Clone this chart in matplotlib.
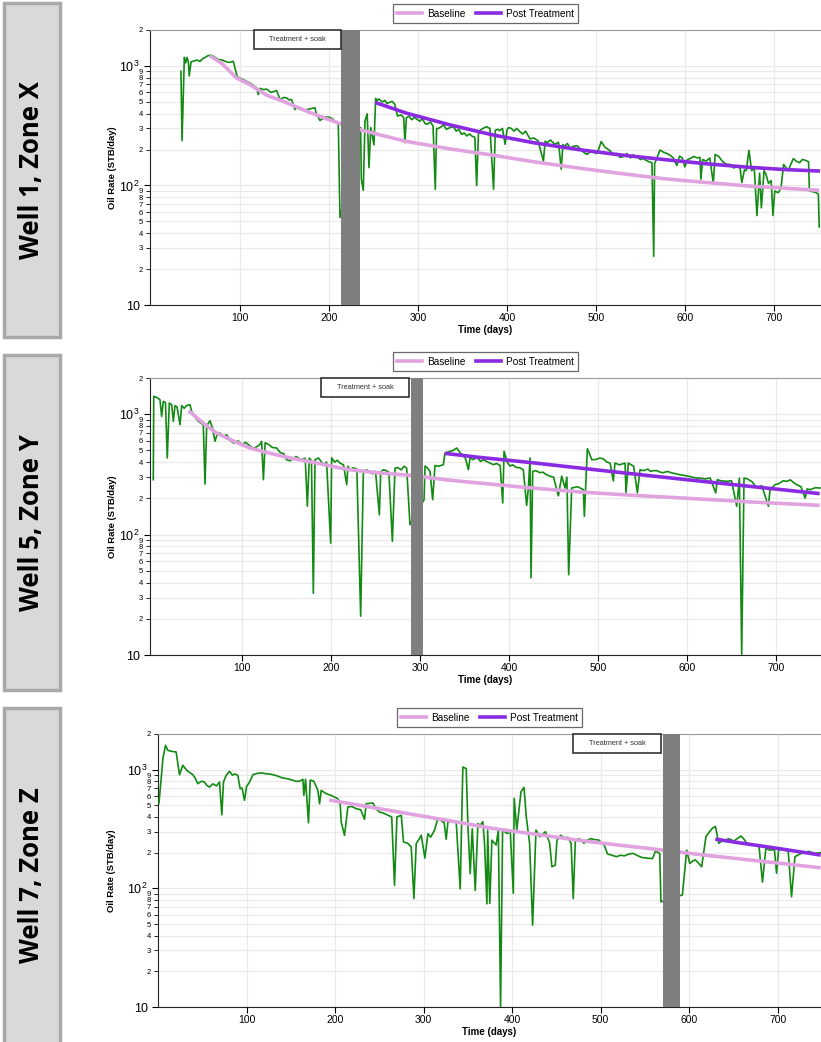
import numpy as np
import matplotlib
matplotlib.use("Agg")
import matplotlib.pyplot as plt
from matplotlib.patches import Rectangle
from matplotlib.lines import Line2D
from matplotlib.ticker import FixedLocator, FuncFormatter
import matplotlib.transforms as mtransforms

plt.rcParams["font.family"] = ["Liberation Sans", "DejaVu Sans"]
plt.rcParams["mathtext.fontset"] = "custom"
plt.rcParams["mathtext.rm"] = "Liberation Sans"

# ---- Well 1, Zone X ----
w1_days = [33.7, 34.9, 37.5, 39, 40.5, 42, 43, 45, 48, 52, 55, 58, 61, 64, 68, 72, 76, 80, 84, 88,
           92.5, 97, 100, 103.8, 107, 111.3, 115, 118.8, 120.6, 122.5, 126, 130, 135, 141.2, 145,
           149, 152.5, 155, 158, 161.8, 164, 167.4, 171, 175, 180, 184.3, 186, 190, 193.7, 197,
           201, 204, 206.8, 210.5, 212.4,
           235.6, 236.4, 238.6, 240.5, 243, 245, 247, 250.6, 252.5, 254, 256, 260, 263, 265, 268,
           271, 274, 277, 281, 284, 285.4, 287, 290, 293, 296, 298.5, 302, 305, 308, 310, 314, 317,
           319.5, 321, 323, 326, 329, 332, 336, 340, 343, 346, 349, 352, 355, 358, 361, 364, 366,
           368, 370, 373, 377, 381, 385, 387, 390, 392, 395, 398, 400, 402, 405, 408, 411, 415,
           418, 421, 424, 426, 430, 435, 441, 443, 445, 449, 454, 458, 461, 463, 465, 468, 471,
           475, 479, 483, 486, 490, 495, 500, 503, 506, 510, 516, 520, 524, 527, 531, 535, 539,
           542, 546, 550, 553, 558, 563, 565, 566, 568, 572, 576, 580, 584, 587, 591, 594, 597,
           600, 603, 606, 610, 614, 617, 618, 620, 624, 628, 632, 634, 638, 642, 647, 651, 655,
           658, 662, 664, 667, 669, 672, 675, 678, 681, 684, 686, 689, 691, 694, 697, 699, 701,
           705, 708, 711, 714, 716, 719, 722, 725, 729, 732, 735, 739, 740, 746, 750, 751]
w1_rate = [903, 237, 1180, 1060, 1180, 1080, 825, 1080, 1100, 1120, 1090, 1150, 1180, 1220, 1230,
           1180, 1130, 1120, 1090, 1070,
           1094, 810, 790, 770, 745, 720, 690, 655, 576, 650, 635, 640, 600, 623, 524,
           545, 541, 520, 524, 432, 455, 447, 425, 432, 440, 447, 393, 350, 365, 375,
           372, 360, 345, 335, 54,
           305, 113, 91, 346, 398, 141, 305, 219, 535, 510, 530, 500, 515, 486, 495,
           505, 478, 381, 390, 370, 228, 368, 380, 355, 372, 360, 345, 362, 330, 325, 340, 315,
           93, 300, 300, 310, 322, 295, 305, 310, 285, 295, 268, 275, 260, 270, 258, 253, 100,
           270, 290, 300, 310, 300, 93, 290, 295, 288, 300, 221, 290, 305, 300, 285, 300, 280,
           270, 285, 260, 245, 250, 237, 160, 235, 228, 240, 221, 230, 137, 220, 213, 225, 205,
           213, 215, 200, 190, 182, 195, 185, 200, 233, 210, 195, 180, 185, 172, 175, 185, 170,
           180, 175, 165, 168, 160, 155, 25.6, 152, 165, 198, 190, 185, 178, 170, 147, 176, 170,
           143, 165, 168, 175, 170, 172, 113, 165, 160, 170, 104, 182, 175, 160, 150, 150, 140,
           145, 140, 106, 135, 133, 197, 133, 140, 56, 127, 65, 133, 125, 104, 110, 56, 90,
           87, 95, 150, 140, 133, 150, 168, 160, 155, 165, 163, 158, 90, 88, 85, 45]
w1_base_days = [66, 80, 96, 111, 130, 149, 168, 186, 211, 235, 260, 287, 335, 383, 430, 480, 528,
                576, 624, 672, 712, 751]
w1_base_rate = [1220, 1045, 795, 700, 570, 505, 440, 388, 333, 293, 262, 234, 203, 180, 158, 140,
                126, 114, 106, 99, 95, 91]
w1_post_days = [252, 287, 335, 383, 430, 480, 528, 576, 624, 672, 712, 752]
w1_post_rate = [495, 403, 323, 266, 228, 200, 180, 165, 152, 142, 136, 132]
w1_soak = (213, 235)
w1_note = (116, 213)

# ---- Well 5, Zone Y ----
w5_days = [0.3, 0.8, 4, 7.8, 9.7, 11.6, 14, 16, 18.3, 21, 22.8, 24.7, 27, 30.3, 32.2, 35, 37.8,
           41.5, 43.4, 47, 51, 54, 56.5, 58.4, 60.3, 64, 67, 69.6, 72, 75.3, 79, 82.7, 86, 90.2,
           93, 95.8, 100, 104, 109, 113, 117, 120, 122, 124, 126, 130, 134, 139, 143, 147, 150,
           154, 157, 161, 166, 171, 173.4, 175.6, 178, 180.1, 182, 186, 191.4, 195, 199.6, 200.7,
           204, 207, 210, 214, 217.6, 219, 221.3, 225, 229, 233.3, 236.3, 240, 243.8, 247, 250,
           254.3, 255.8, 258.8, 262, 265, 268.9, 271.9, 275, 279, 282, 285, 288.7,
           304.5, 305.6, 308, 311.2, 314.2, 316.8, 321, 326.2, 328, 333, 337, 341.2, 345, 348.7,
           351, 354.3, 356.2, 360, 364, 368, 371.1, 374.9, 378, 382.4, 386, 390, 392.9, 394.4,
           398, 401, 404, 408.6, 412, 416, 419.8, 421.7, 423.6, 424.7, 426.6, 430, 434.8, 438,
           442, 446, 450, 455.4, 459.2, 462.9, 465, 467, 470.4, 477, 483.5, 484.6, 488, 490,
           492.9, 497, 502.2, 506, 510, 513.5, 517.2, 519, 524, 530.3, 531.4, 534, 540, 544.2,
           547.2, 551, 556, 559, 562, 566, 570, 573.4, 578, 583, 588, 592.1, 597, 602, 606,
           610.8, 615, 620, 626, 632.2, 634, 638, 644.5, 650, 655.8, 658.8, 661.4, 664, 668, 673,
           678.3, 684, 691.4, 693.2, 698.9, 703, 708, 712, 716, 720, 723.2, 728, 732.6, 735,
           738.2, 744, 749.4]
w5_rate = [286, 1408, 1380, 1320, 961, 1280, 1250, 433, 1239, 1200, 873, 1180, 1150, 818, 1180,
           1120, 1180, 1200, 1057, 950, 873, 840, 818, 263, 800, 883, 760, 596, 680, 698, 650,
           675, 610, 577, 590, 600, 560, 585, 545, 520, 540, 560, 596, 286, 580, 560, 530, 524,
           480, 470, 419, 410, 430, 445, 420, 430, 172, 433, 410, 32.6, 420, 433, 381, 400, 85,
           435, 400, 415, 393, 380, 260, 370, 346, 360, 350, 21, 335, 345, 330, 320, 335, 146,
           330, 346, 340, 330, 88, 357, 360, 345, 370, 357, 121,
           195, 371, 360, 335, 195, 375, 370, 381, 476, 490, 500, 524, 480, 450, 430, 346, 433,
           420, 440, 405, 419, 405, 395, 381, 390, 375, 183, 492, 400, 371, 380, 360, 360, 346,
           175, 244, 433, 43.8, 335, 340, 327, 330, 315, 306, 300, 210, 306, 244, 300, 46.4,
           244, 250, 236, 142, 517, 480, 419, 420, 433, 425, 400, 393, 279, 393, 380, 393, 222,
           393, 370, 222, 346, 340, 350, 335, 340, 340, 330, 327, 335, 325, 320, 314, 310, 305,
           300, 295, 295, 290, 295, 222, 286, 280, 277, 280, 172, 295, 10.1, 295, 290, 275, 244,
           255, 172, 236, 260, 265, 280, 277, 285, 270, 260, 250, 201, 240, 236, 245, 244]
w5_base_days = [40, 55, 71.5, 90, 109, 128, 146, 165, 184, 202, 221, 255, 289, 330, 367, 420, 480,
                535, 592, 670, 749]
w5_base_rate = [1070, 860, 697, 600, 524, 480, 447, 418, 393, 368, 346, 325, 311, 285, 268, 246,
                226, 213, 202, 187, 175]
w5_post_days = [328, 367, 420, 480, 535, 592, 670, 749]
w5_post_rate = [473, 438, 400, 357, 322, 290, 252, 219]
w5_soak = (290, 303)
w5_note = (189, 288)

# ---- Well 7, Zone Z ----
w7_days = [1, 3.6, 5.5, 8.5, 11.1, 15, 20.5, 24.3, 28, 33, 39.4, 42, 45, 49, 52.5, 55, 58.2, 62,
           66, 69.5, 72.1, 74, 77, 80.8, 84, 87, 90.2, 92.8, 95, 97.7, 100, 103.4, 107.2, 112,
           117, 122, 128, 134, 141, 146, 151, 156, 160, 163.7, 164.8, 166.7, 170, 172, 176, 180.6,
           182.5, 184.4, 187, 190, 195, 199, 203.2, 205.8, 207, 210.7, 214.5, 219, 224, 229,
           233.3, 235.2, 239, 242.8, 246, 250.3, 255, 261.6, 264, 267.2, 269.9, 274.8, 277.4, 282,
           286.1, 289.1, 291.7, 295, 297.4, 301.5, 304.9, 308, 312.4, 316.2, 321.8, 323, 325.6,
           327.5, 332, 336.9, 341.4, 344.4, 348.2, 350.1, 352.7, 355, 358.4, 361.4, 364, 367,
           368.9, 371.6, 372.4, 374.8, 377.2, 382, 384.5, 387, 389.3, 394.2, 398, 401.4, 402.4,
           405.3, 410.1, 413.5, 416, 419.8, 423.2, 427, 431.4, 437.7, 442.5, 445, 448.8, 450.7,
           455, 459.5, 463, 466.7, 469.1, 471.5, 476, 481.2, 485, 488.5, 493, 498.1, 504, 507.8,
           513, 518, 522.3, 527, 532, 536.8, 541, 546.5, 552, 558.6, 562, 566.8, 568.2,
           592.4, 597.3, 600.7, 604, 607, 610, 614.2, 619, 623, 626.3, 629.7, 633.5, 637, 640.8,
           645, 650.5, 655, 658.7, 662, 665, 670, 674.6, 679, 682.9, 686.7, 691, 696.4, 698.8,
           701.2, 708.5, 712, 715.7, 719.6, 725.4, 730, 735.1, 742.3, 748.6]
w7_rate = [517, 840, 1238, 1606, 1457, 1430, 1410, 907, 1089, 980, 907, 850, 762, 800, 788, 740,
           714, 760, 730, 788, 417, 788, 896, 969, 900, 920, 896, 692, 700, 552, 720, 788, 907,
           930, 940, 925, 915, 890, 851, 840, 820, 798, 800, 830, 608, 830, 357, 818, 800, 670,
           517, 670, 650, 627, 610, 590, 570, 517, 362, 280, 485, 490, 469, 460,
           382, 517, 520, 525, 470, 440, 430, 407, 400, 106, 400, 413, 246, 240,
           223, 82, 238, 260, 280, 180, 289, 270, 309, 391, 362, 370, 259,
           362, 370, 360, 99, 1054, 1020, 340, 133, 318, 96, 351, 340, 364,
           238, 74, 310, 74.7, 255, 232, 310, 10, 310, 290, 300, 91, 574,
           310, 652, 710, 402, 240, 49, 310, 272, 300, 240, 152, 157, 255,
           280, 264, 270, 240, 82, 255, 262, 240, 255, 262, 258, 255, 232, 195,
           190, 185, 190, 188, 195, 197, 190, 182, 180, 178, 206, 197, 77,
           88, 210, 162, 170, 174, 165, 152, 272, 300, 321, 333, 240, 250, 255,
           262, 250, 265, 276, 260, 240, 235, 232, 225, 113, 217, 210, 212, 134,
           214, 210, 205, 85, 185, 195, 200, 205, 197, 200]
w7_base_days = [193.5, 237, 280.5, 329, 377, 425, 474, 522, 570.6, 619, 667, 708, 748.6]
w7_base_rate = [555, 488, 429, 372, 321, 287, 255, 231, 210, 190, 174, 161, 149]
w7_post_days = [629.6, 660, 691.5, 720, 748.6]
w7_post_rate = [260, 240, 222, 206, 191]
w7_soak = (570.5, 590)
w7_note = (469, 568)

panel_labels = ["Well 1, Zone X", "Well 5, Zone Y", "Well 7, Zone Z"]

W, H = 821, 1042
fig = plt.figure(figsize=(W / 100, H / 100), dpi=100)

BASE_C = "#e0a3e0"
POST_C = "#8a2be2"
GREEN = "#138a13"


def fx(px):
    return px / W


def fy(py):
    return 1 - py / H


def draw_panel(ax, days, rate, bd, br, pd_, pr, soak, note, xlim, ylab_px):
    ax.set_yscale("log")
    ax.set_ylim(10, 2000)
    ax.set_xlim(*xlim)
    ax.axvspan(soak[0], soak[1], color="#7f7f7f", zorder=6, lw=0)
    ax.plot(days, rate, color=GREEN, lw=1.2, zorder=3)
    ax.plot(bd, br, color=BASE_C, lw=2.6, zorder=4, solid_capstyle="butt")
    ax.plot(pd_, pr, color=POST_C, lw=2.6, zorder=5, solid_capstyle="butt")

    # annotation box at top of plot area
    tr = mtransforms.blended_transform_factory(ax.transData, ax.transAxes)
    ax.add_patch(Rectangle((note[0], 0.932), note[1] - note[0], 0.068, transform=tr,
                           facecolor="white", edgecolor="#222222", lw=1.1, zorder=7,
                           clip_on=False))
    ax.text((note[0] + note[1]) / 2, 0.966, "Treatment + soak", transform=tr,
            ha="center", va="center", fontsize=5.3, color="#333333", zorder=8)

    ax.yaxis.set_major_locator(FixedLocator([10, 100, 1000]))
    minors = [m * d for d in (10, 100, 1000) for m in range(2, 10) if m * d <= 2000]
    ax.yaxis.set_minor_locator(FixedLocator(minors))
    ax.yaxis.set_major_formatter(FuncFormatter(
        lambda v, p: {10: "10", 100: "$10^2$", 1000: "$10^3$"}.get(int(round(v)), "")))
    ax.yaxis.set_minor_formatter(FuncFormatter(
        lambda v, p: str(int(round(v / 10 ** np.floor(np.log10(v)))))))
    ax.set_xticks([100, 200, 300, 400, 500, 600, 700])
    ax.tick_params(axis="y", which="major", labelsize=9, length=4, width=0.8)
    ax.tick_params(axis="y", which="minor", labelsize=5.5, length=3, width=0.6, pad=2)
    ax.tick_params(axis="x", labelsize=7.5, length=4, width=0.8, pad=2)
    ax.grid(True, axis="y", which="both", color="#e9e9e9", lw=0.9, zorder=0)
    ax.grid(True, axis="x", which="major", color="#e9e9e9", lw=0.9, zorder=0)
    ax.set_axisbelow(True)
    ax.spines["right"].set_visible(False)
    ax.spines["top"].set_color("#9a9a9a")
    ax.spines["left"].set_color("#222222")
    ax.spines["bottom"].set_color("#222222")
    ax.set_xlabel("Time (days)", fontsize=7, fontweight="bold", labelpad=1)
    ax.set_ylabel("Oil Rate (STB/day)", fontsize=6.8, fontweight="bold")
    width_px = ax.get_position().width * W
    ax.yaxis.set_label_coords(ylab_px / width_px, 0.5)

    handles = [Line2D([], [], color=BASE_C, lw=2.6), Line2D([], [], color=POST_C, lw=2.6)]
    leg = ax.legend(handles, ["Baseline", "Post Treatment"], loc="lower center",
                    bbox_to_anchor=(0.5, 1.025), ncol=2, fontsize=7.2, frameon=True,
                    fancybox=False, edgecolor="#444444", handlelength=2.5,
                    columnspacing=1.0, handletextpad=0.5, borderpad=0.45,
                    borderaxespad=0)
    leg.get_frame().set_linewidth(0.9)


panels = [
    (150, 30, 305, (w1_days, w1_rate, w1_base_days, w1_base_rate, w1_post_days, w1_post_rate,
                    w1_soak, w1_note, (-1.1, 753), -33)),
    (150, 378, 655, (w5_days, w5_rate, w5_base_days, w5_base_rate, w5_post_days, w5_post_rate,
                     w5_soak, w5_note, (-3.4, 750.5), -33)),
    (158, 734, 1007, (w7_days, w7_rate, w7_base_days, w7_base_rate, w7_post_days, w7_post_rate,
                      w7_soak, w7_note, (0, 749), -42)),
]
boxes = [(3, 337), (355, 690), (708, 1050)]

for (left, top, bottom, args), (b0, b1), label in zip(panels, boxes, panel_labels):
    ax = fig.add_axes([fx(left), fy(bottom), fx(W - left), (bottom - top) / H])
    draw_panel(ax, *args)
    fig.patches.append(Rectangle((fx(4), fy(b1)), fx(56), (b1 - b0) / H,
                                 transform=fig.transFigure, facecolor="#d9d9d9",
                                 edgecolor="#a9a9a9", lw=2.5, zorder=0))
    fig.text(fx(32), fy((b0 + min(b1, H)) / 2), label, rotation=90, ha="center",
             va="center", fontsize=18.5, fontweight="bold",
             family=["Open Sans", "DejaVu Sans"])

fig.savefig("out.png", dpi=100)
